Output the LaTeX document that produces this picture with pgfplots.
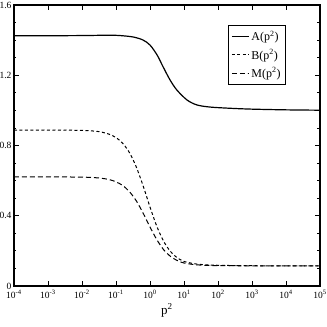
\documentclass[border=0pt]{standalone}
\usepackage{pgfplots}
\pgfplotsset{compat=1.18}
\usepackage{fontspec}
\setmainfont{Liberation Serif}

\begin{document}
\begin{tikzpicture}
\begin{axis}[
    scale only axis,
    width=306pt, height=281pt,
    xmin=-4, xmax=5,
    ymin=0, ymax=1.6,
    xtick={-4,-3,-2,-1,0,1,2,3,4,5},
    xticklabels={10\textsuperscript{-4},10\textsuperscript{-3},10\textsuperscript{-2},10\textsuperscript{-1},10\textsuperscript{0},10\textsuperscript{1},10\textsuperscript{2},10\textsuperscript{3},10\textsuperscript{4},10\textsuperscript{5}},
    ytick={0,0.4,0.8,1.2,1.6},
    yticklabels={0,0.4,0.8,1.2,1.6},
    minor y tick num=3,
    tick align=inside,
    major tick length=5pt,
    minor tick length=2.5pt,
    every tick/.style={line width=0.8pt},
    axis line style={line width=1.2pt},
    ticklabel style={font=\fontsize{9.5}{10}\selectfont},
    xticklabel style={yshift=-1pt},
    yticklabel style={xshift=1pt},
    xlabel={p\textsuperscript{2}},
    xlabel style={font=\fontsize{13}{14}\selectfont, yshift=2pt},
    legend style={at={(0.699,0.929)}, anchor=north west, draw=black, line width=0.6pt,
        font=\fontsize{12}{14}\selectfont, row sep=3pt, inner xsep=3pt, inner ysep=4pt},
    legend cell align={left},
]
\addplot[black, line width=1.2pt, smooth] coordinates {
    (-4,1.425) (-3,1.425) (-2,1.426) (-1.2,1.428) (-0.88,1.426) (-0.5,1.418)
    (-0.21,1.401) (0,1.372) (0.21,1.315) (0.38,1.250) (0.59,1.173) (0.79,1.116)
    (1.09,1.059) (1.38,1.031) (1.76,1.019) (2.35,1.012) (3,1.007) (4,1.003) (5,1.001)
};
\addlegendentry{A(p\textsuperscript{2})}
\addplot[black, line width=1pt, smooth, dash pattern=on 3pt off 2.5pt] coordinates {
    (-4,0.888) (-3,0.888) (-2,0.886) (-1.5,0.879) (-1.2,0.864) (-1.0,0.845)
    (-0.8,0.812) (-0.6,0.758) (-0.4,0.676) (-0.2,0.569) (0,0.450) (0.2,0.340)
    (0.4,0.255) (0.6,0.197) (0.8,0.161) (1.0,0.140) (1.3,0.127) (1.6,0.121)
    (2,0.118) (2.6,0.116) (3.5,0.115) (5,0.114)
};
\addlegendentry{B(p\textsuperscript{2})}
\addplot[black, line width=1pt, smooth, dash pattern=on 5pt off 3pt] coordinates {
    (-4,0.621) (-3,0.621) (-2,0.620) (-1.5,0.615) (-1.2,0.606) (-1.0,0.593)
    (-0.8,0.572) (-0.6,0.536) (-0.4,0.484) (-0.2,0.414) (0,0.336) (0.2,0.264)
    (0.4,0.207) (0.6,0.169) (0.8,0.145) (1.0,0.131) (1.3,0.122) (1.6,0.118)
    (2,0.116) (3,0.115) (5,0.114)
};
\addlegendentry{M(p\textsuperscript{2})}
\end{axis}
\pgfresetboundingbox
\path (-14pt,-41pt) rectangle (313pt,286pt);
\end{tikzpicture}
\end{document}
